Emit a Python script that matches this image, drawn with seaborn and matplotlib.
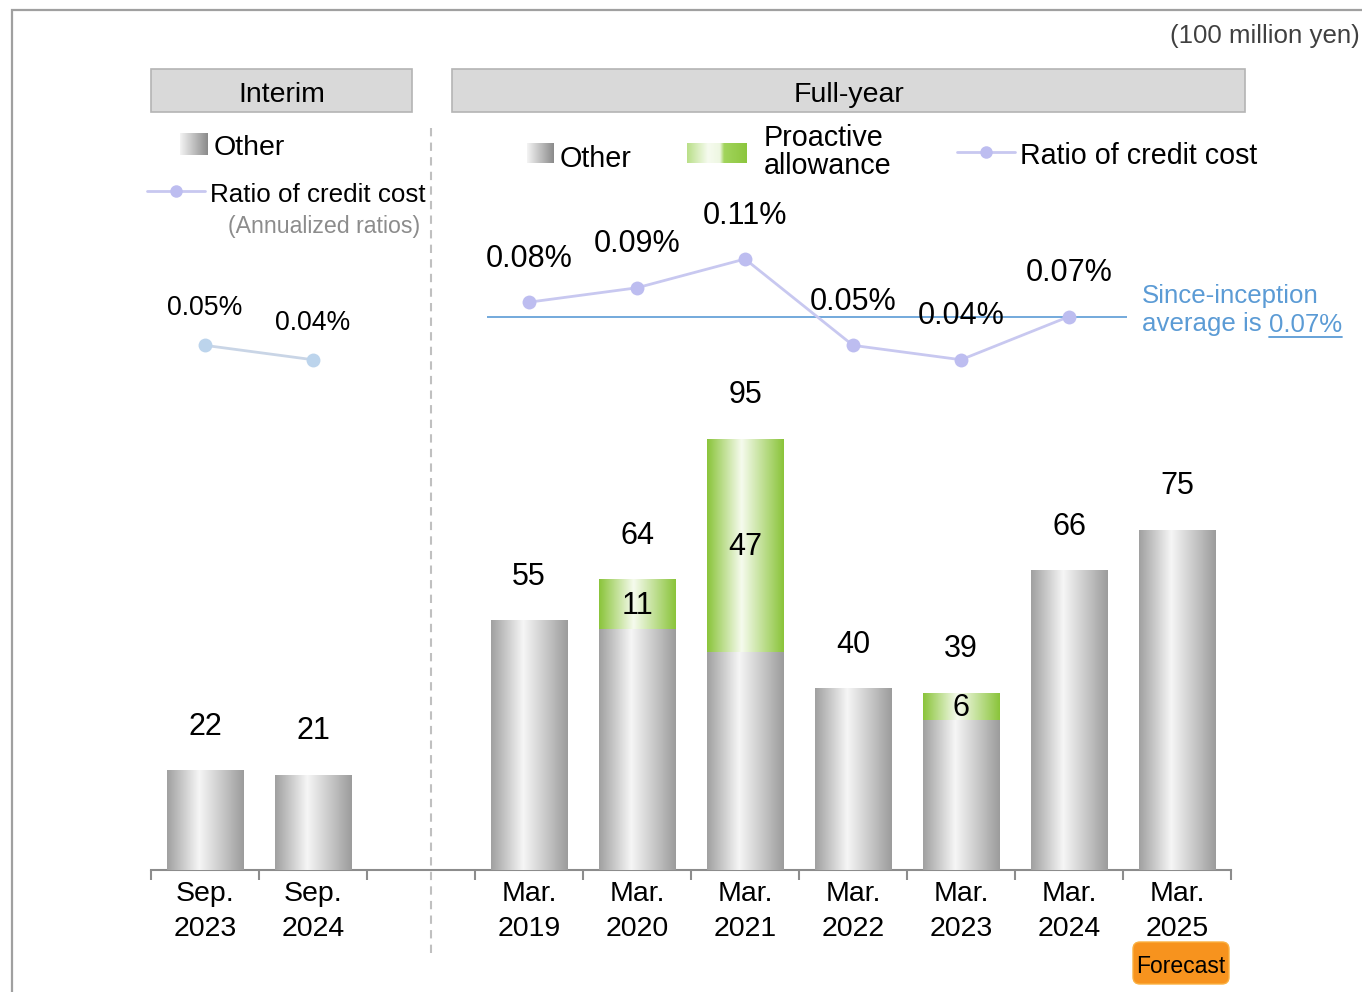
import numpy as np
import pandas as pd
import matplotlib
matplotlib.use("Agg")
import matplotlib.pyplot as plt
import seaborn as sns
from matplotlib.colors import LinearSegmentedColormap
from matplotlib.patches import Rectangle, FancyBboxPatch

# ---- data: credit cost (100 million yen) and ratio of credit cost (%) ----
periods = ["Sep.\n2023", "Sep.\n2024",
           "Mar.\n2019", "Mar.\n2020", "Mar.\n2021", "Mar.\n2022",
           "Mar.\n2023", "Mar.\n2024", "Mar.\n2025"]
groups = ["Interim", "Interim"] + ["Full-year"] * 7
other = [22, 21, 55, 53, 48, 40, 33, 66, 75]
proactive = [0, 0, 0, 11, 47, 0, 6, 0, 0]
ratio = [0.05, 0.04, 0.08, 0.09, 0.11, 0.05, 0.04, 0.07, np.nan]
avg_ratio = 0.07

df = pd.DataFrame({"period": periods, "group": groups, "other": other,
                   "proactive": proactive, "ratio": ratio})
df["total"] = df["other"] + df["proactive"]

# x slots: the two interim bars, one empty slot, then the fiscal years
order = periods[:2] + [""] + periods[2:]
df["pos"] = [order.index(p) for p in df["period"]]

W, H = 1362, 992
sns.set_theme(style="white")
plt.rcParams["font.family"] = ["Liberation Sans", "DejaVu Sans"]
plt.rcParams["text.color"] = "black"
plt.rcParams["xtick.color"] = "black"
fig = plt.figure(figsize=(W / 100, H / 100), dpi=100, facecolor="white")


def fbox(x0, y0, x1, y1):
    """pixel box (top-left origin) -> figure-fraction rect"""
    return [x0 / W, 1 - y1 / H, (x1 - x0) / W, (y1 - y0) / H]


ax = fig.add_axes(fbox(151, 60, 1231, 870))
ax2 = ax.twinx()

# ---- stacked bars: total (green part shows proactive) under "other" ----
bar_kw = dict(order=order, width=0.71, saturation=1, errorbar=None,
              linewidth=0, ax=ax)
sns.barplot(data=df, x="period", y="total", color="#8dc63f", zorder=2, **bar_kw)
green_patches = list(ax.patches)
sns.barplot(data=df, x="period", y="other", color="#b0b0b0", zorder=3, **bar_kw)
gray_patches = list(ax.patches[len(green_patches):])

gray_cmap = LinearSegmentedColormap.from_list(
    "bar_gray", [(0, "#a0a0a0"), (0.42, "#f6f6f6"), (1, "#9c9c9c")])
green_cmap = LinearSegmentedColormap.from_list(
    "bar_green", [(0, "#8ac43a"), (0.45, "#f6fbee"), (1, "#8ac43a")])
ramp = np.linspace(0, 1, 256)[None, :]


def shade(target, patches, cmap, z):
    for p in patches:
        if p.get_height() <= 0:
            continue
        x0, y0, w, h = p.get_x(), p.get_y(), p.get_width(), p.get_height()
        im = target.imshow(ramp, cmap=cmap, extent=[x0, x0 + w, y0, y0 + h],
                           aspect="auto", interpolation="bilinear", zorder=z)
        im.set_clip_path(p)


shade(ax, green_patches, green_cmap, 2.5)
shade(ax, gray_patches, gray_cmap, 3.5)

# value labels
for p in gray_patches:
    cx = p.get_x() + p.get_width() / 2
    row = df[df["pos"] == int(round(cx))].iloc[0]
    ax.annotate(f"{row['total']}", (cx, row["total"]), xytext=(0, 47 * 0.72),
                textcoords="offset points", ha="center",
                va="center_baseline", fontsize=22, zorder=6)
    if row["proactive"] > 0:
        ax.annotate(f"{row['proactive']}",
                    (cx, row["other"] + row["proactive"] / 2),
                    xytext=(0, 2 * 0.72), textcoords="offset points",
                    ha="center", va="center_baseline", fontsize=22, zorder=6)

# ---- ratio of credit cost lines ----
line_styles = {
    "Interim": dict(color="#c9d5e6", mfc="#bcd4ec", fs=19.2, off=40),
    "Full-year": dict(color="#c8c8f0", mfc="#bdbdf0", fs=22, off=47),
}
for grp, st in line_styles.items():
    sub = df[(df["group"] == grp) & df["ratio"].notna()]
    sns.lineplot(data=sub, x="pos", y="ratio", ax=ax2, color=st["color"],
                 linewidth=2, marker="o", markersize=10,
                 markerfacecolor=st["mfc"], markeredgewidth=0,
                 errorbar=None, zorder=4)
    for _, r in sub.iterrows():
        ax2.annotate(f"{r['ratio']:.2f}%", (r["pos"], r["ratio"]),
                     xytext=(0, st["off"] * 0.72), textcoords="offset points",
                     ha="center", va="center_baseline", fontsize=st["fs"],
                     zorder=6)

fy_pos = df.loc[df["group"] == "Full-year", "pos"]
last_ratio_pos = df.loc[df["ratio"].notna(), "pos"].max()
ax2.hlines(avg_ratio, fy_pos.min() - 0.39, last_ratio_pos + 0.54,
           color="#5b9bd5", lw=1.2, zorder=3.8)
ax2.set_ylim(-0.3146, 0.2483)
ax2.axis("off")

# ---- main axis styling ----
ax.set_xlim(-0.5, len(order) - 0.5)
ax.set_ylim(0, 810 / 4.54)
ax.set_xticks(range(len(order)))
ax.set_xticklabels(order)
for lab in ax.get_xticklabels():
    lab.set_linespacing(1.42)
ax.set_xticks(np.arange(-0.5, len(order), 1), minor=True)
ax.tick_params(axis="x", which="major", length=0, pad=8, labelsize=20.5,
               labelcolor="black")
ax.tick_params(axis="x", which="minor", bottom=True, length=7, width=1.5,
               color="#8c8c8c", direction="out")
ax.set_yticks([])
ax.set_xlabel("")
ax.set_ylabel("")
for s in ["left", "top", "right"]:
    ax.spines[s].set_visible(False)
ax.spines["bottom"].set_color("#8c8c8c")
ax.spines["bottom"].set_linewidth(1.5)

# ---- overlay in pixel coordinates for headers, legends and notes ----
ov = fig.add_axes([0, 0, 1, 1], zorder=10)
ov.set_xlim(0, W)
ov.set_ylim(H, 0)
ov.axis("off")

ov.plot([12, 12, W], [H, 10, 10], color="#a0a0a0", lw=1.6,
        solid_joinstyle="miter", clip_on=False)

for x0, x1, label in [(151, 412, "Interim"), (452, 1245, "Full-year")]:
    ov.add_patch(Rectangle((x0, 69), x1 - x0, 43, fc="#d9d9d9",
                           ec="#b4b4b4", lw=1.2))
    ov.text((x0 + x1) / 2, 92, label, ha="center", va="center_baseline",
            fontsize=20.5)

ov.plot([431, 431], [128, 955], color="#c0c0c0", lw=1.5, ls=(0, (4, 3)))

legend_gray = LinearSegmentedColormap.from_list(
    "leg_gray", ["#f4f4f4", "#8a8a8a"])
legend_green = LinearSegmentedColormap.from_list(
    "leg_green", [(0, "#b9df88"), (0.35, "#f6fbef"), (0.55, "#eef7e2"),
                  (0.62, "#a2d45c"), (1, "#8cc63e")])


def swatch(x0, y0, x1, y1, cmap):
    ov.imshow(ramp, cmap=cmap, extent=[x0, x1, y1, y0], aspect="auto",
              interpolation="bilinear")


def legend_line(x0, x1, y):
    ov.plot([x0, x1], [y, y], color="#c8c8f0", lw=2)
    ov.plot([(x0 + x1) / 2], [y], "o", ms=9, color="#bdbdf0", mew=0)


# interim legend
swatch(180, 133, 208, 155, legend_gray)
ov.text(214, 145, "Other", va="center_baseline", fontsize=20.5)
legend_line(147, 205, 191)
ov.text(210, 192, "Ratio of credit cost", va="center_baseline", fontsize=18.7)
ov.text(420, 224, "(Annualized ratios)", ha="right", va="center_baseline",
        fontsize=16.7, color="#8c8c8c")

# full-year legend
swatch(527, 143, 554, 163, legend_gray)
ov.text(560, 156, "Other", va="center_baseline", fontsize=20.7)
swatch(687, 143, 747, 163, legend_green)
ov.text(764, 152, "Proactive\nallowance", va="center", fontsize=20.7,
        linespacing=1.0)
legend_line(957, 1015, 152)
ov.text(1020, 153, "Ratio of credit cost", va="center_baseline", fontsize=20.6)

ov.text(1360, 33, "(100 million yen)", ha="right", va="center_baseline",
        fontsize=18.6, color="#404040")

# since-inception average note
note_col = "#5b9bd5"
ov.text(1142, 293, "Since-inception", va="center_baseline", fontsize=18.6,
        color=note_col)
t_avg = ov.text(1142, 322, "average is", va="center_baseline", fontsize=18.6,
                color=note_col)
fig.canvas.draw()
inv = ov.transData.inverted()
bb = t_avg.get_window_extent()
x_end = inv.transform((bb.x1, bb.y0))[0]
t_val = ov.text(x_end + 7, 322, f"{avg_ratio:.2f}%", va="center_baseline",
                fontsize=18.6, color=note_col)
fig.canvas.draw()
bb2 = t_val.get_window_extent()
(ux0, uy), (ux1, _) = inv.transform([(bb2.x0, bb2.y0), (bb2.x1, bb2.y0)])
ov.plot([ux0, ux1], [uy, uy], color=note_col, lw=1.3)

# forecast badge
ov.add_patch(FancyBboxPatch((1133, 942), 96, 42,
                            boxstyle="round,pad=0,rounding_size=7",
                            fc="#f7931e", ec="#fbb040", lw=1))
ov.text(1181, 964, "Forecast", ha="center", va="center_baseline",
        fontsize=16.5)

ov.set_xlim(0, W)
ov.set_ylim(H, 0)

fig.savefig("out.png", dpi=100, facecolor="white")
